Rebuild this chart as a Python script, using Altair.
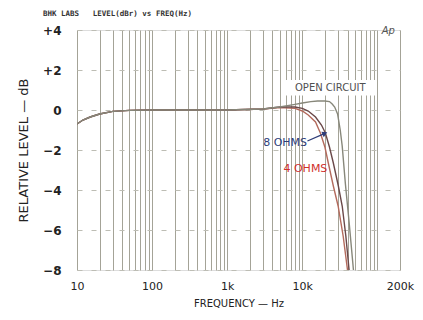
import altair as alt
import pandas as pd

# ---- data ----
oc_freq = [10, 12, 15, 20, 30, 50, 100, 300, 1000, 3000, 5000, 8000, 10000, 13000, 16000, 20000, 23000, 25000, 27000, 29500, 32000, 34000, 37500, 42000, 48000]
oc_db   = [-0.7, -0.5, -0.35, -0.2, -0.07, -0.02, 0, 0, 0, 0.05, 0.15, 0.28, 0.35, 0.42, 0.45, 0.45, 0.42, 0.3, 0.15, -0.2, -1.0, -1.8, -3.7, -5.6, -8.0]

o8_freq = [10, 12, 15, 20, 30, 50, 100, 300, 1000, 3000, 5000, 8000, 10000, 12000, 15000, 18000, 20300, 23000, 25900, 30200, 34000, 38000, 42000]
o8_db   = [-0.7, -0.5, -0.35, -0.2, -0.07, -0.02, 0, 0, 0, 0.05, 0.15, 0.15, 0.08, -0.05, -0.35, -0.75, -1.15, -1.85, -2.65, -3.8, -4.8, -6.3, -8.0]

o4_freq = [10, 12, 15, 20, 30, 50, 100, 300, 1000, 3000, 5000, 8000, 10000, 12000, 15000, 17400, 20000, 22200, 25900, 30000, 35000, 40000]
o4_db   = [-0.7, -0.5, -0.35, -0.2, -0.07, -0.02, 0, 0, 0, 0.05, 0.12, 0.08, -0.05, -0.25, -0.6, -1.15, -1.85, -2.65, -3.8, -4.8, -6.3, -8.0]

grid_freqs = [m * 10 ** e for e in range(1, 5) for m in range(1, 10)] + [100000, 200000]
y_ticks = [-8, -6, -4, -2, 0, 2, 4]

series = ["OPEN CIRCUIT", "8 OHMS", "4 OHMS"]
curve_colors = ["#87877a", "#6a4848", "#b36a5c"]

# annotation labels (frequency, dB)
lab_text = ["OPEN CIRCUIT", "8 OHMS", "4 OHMS"]
lab_freq = [23600, 5900, 11000]
lab_db = [1.1, -1.65, -2.95]
lab_color = ["#505050", "#2e3c78", "#d0302c"]
lab_size = [10, 11, 11]

ap_text = ["Ap"]
ap_freq = [140000]
ap_db = [3.95]

box_freq = [5900, 97000]
box_db = [0.72, 1.5]

arrow_freq = [11700, 20000]
arrow_db = [-1.55, -1.17]

xscale = alt.Scale(type="log", domain=[10, 200000], nice=False)
yscale = alt.Scale(domain=[-8, 4], nice=False)

x_label_expr = ("datum.value == 10 ? '10' : datum.value == 100 ? '100' : datum.value == 1000 ? '1k' : "
                "datum.value == 10000 ? '10k' : datum.value == 200000 ? '200k' : ''")
y_label_expr = "datum.value > 0 ? '+' + datum.value : (datum.value < 0 ? '\u2212' + (-datum.value) : '0')"

x_axis = alt.Axis(values=grid_freqs, labelExpr=x_label_expr, grid=True, gridColor="#a4a397",
                  gridWidth=1, gridOpacity=1, domain=False, ticks=False, labelPadding=10,
                  labelFont="DejaVu Sans", labelFontSize=11, labelColor="#222",
                  labelFlush=False, labelOverlap=False,
                  title="FREQUENCY \u2014 Hz", titleFont="DejaVu Sans", titleFontSize=10,
                  titleFontWeight="normal", titleColor="#222", titlePadding=7)
y_axis = alt.Axis(values=y_ticks, labelExpr=y_label_expr, grid=True, gridColor="#bdbdb4",
                  gridDash=[5, 9], gridWidth=1, domain=False, ticks=False, labelPadding=16,
                  labelFont="DejaVu Sans", labelFontSize=12, labelFontWeight="bold",
                  labelColor="#222", labelFlush=False, labelOverlap=False,
                  title="RELATIVE LEVEL \u2014 dB", titleFont="DejaVu Sans", titleFontSize=13,
                  titleFontWeight="normal", titleColor="#222", titlePadding=12)


def X(field):
    return alt.X(field, type="quantitative", scale=xscale, axis=x_axis)


def Y(field):
    return alt.Y(field, type="quantitative", scale=yscale, axis=y_axis)


def curve(fr, db, color):
    df = pd.DataFrame({"freq": fr, "db": db, "order": list(range(len(fr)))})
    return alt.Chart(df).mark_line(strokeWidth=1.4, clip=True, color=color).encode(
        x=X("freq"), y=Y("db"), order="order:Q")


line4 = curve(o4_freq, o4_db, curve_colors[2])
line8 = curve(o8_freq, o8_db, curve_colors[1])
line_oc = curve(oc_freq, oc_db, curve_colors[0])

box_df = pd.DataFrame({"f1": [box_freq[0]], "f2": [box_freq[1]], "d1": [box_db[0]], "d2": [box_db[1]]})
box = alt.Chart(box_df).mark_rect(color="white").encode(
    x=X("f1"), x2="f2:Q", y=Y("d1"), y2="d2:Q")

arrow_df = pd.DataFrame({"f1": [arrow_freq[0]], "f2": [arrow_freq[1]], "d1": [arrow_db[0]], "d2": [arrow_db[1]]})
arrow = alt.Chart(arrow_df).mark_rule(color="#2e3c78", strokeWidth=1.3).encode(
    x=X("f1"), x2="f2:Q", y=Y("d1"), y2="d2:Q")
head_df = pd.DataFrame({"freq": [arrow_freq[1]], "db": [arrow_db[1]]})
head = alt.Chart(head_df).mark_point(shape="triangle-right", filled=True, size=35, angle=336,
                                     color="#2e3c78", opacity=1).encode(x=X("freq"), y=Y("db"))

labels_df = pd.DataFrame({"text": lab_text, "freq": lab_freq, "db": lab_db, "color": lab_color, "size": lab_size})
labels = alt.Chart(labels_df).mark_text(font="DejaVu Sans", baseline="middle", align="center").encode(
    x=X("freq"), y=Y("db"),
    text="text:N",
    color=alt.Color("color:N", scale=None),
    size=alt.Size("size:Q", scale=None),
)

ap_df = pd.DataFrame({"text": ap_text, "freq": ap_freq, "db": ap_db})
ap = alt.Chart(ap_df).mark_text(font="DejaVu Sans", fontStyle="italic", fontSize=10, color="#555",
                                baseline="middle", align="center").encode(
    x=X("freq"), y=Y("db"), text="text:N")

title_text = "BHK LABS\u00a0\u00a0\u00a0LEVEL(dBr) vs FREQ(Hz)"

chart = alt.layer(line4, line8, line_oc, box, arrow, head, labels, ap).properties(
    width=323, height=240,
    autosize=alt.AutoSizeParams(type="none"),
    padding={"left": 69, "top": 22, "right": 15, "bottom": 42},
    title=alt.TitleParams(title_text, anchor="start", frame="group",
                          font="DejaVu Sans Mono", fontSize=7.5, fontWeight="bold", color="#333",
                          dx=-34, offset=7),
).configure_view(strokeWidth=0).configure(background="white")

chart.save("out.html", embed_options={"renderer": "svg", "actions": False})
